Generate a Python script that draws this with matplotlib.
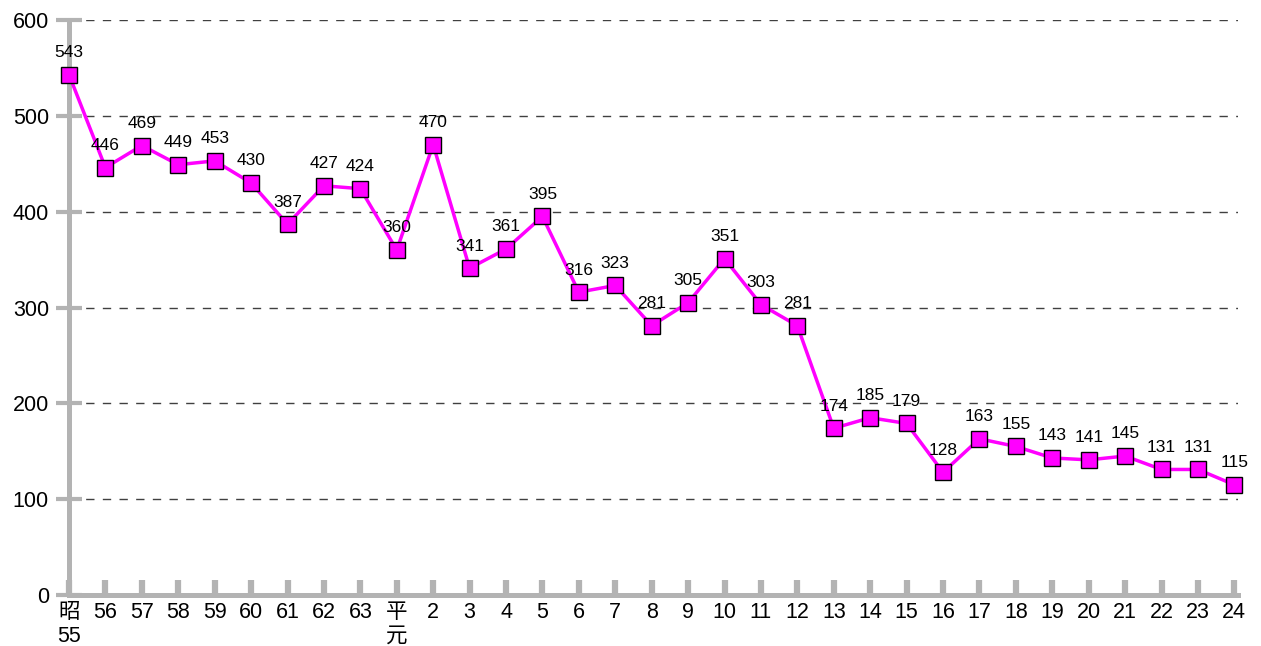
import matplotlib
matplotlib.use("Agg")
import matplotlib.pyplot as plt

categories = ["昭\n55", "56", "57", "58", "59", "60", "61", "62", "63", "平\n元",
              "2", "3", "4", "5", "6", "7", "8", "9", "10", "11", "12", "13",
              "14", "15", "16", "17", "18", "19", "20", "21", "22", "23", "24"]
values = [543, 446, 469, 449, 453, 430, 387, 427, 424, 360,
          470, 341, 361, 395, 316, 323, 281, 305, 351, 303, 281, 174,
          185, 179, 128, 163, 155, 143, 141, 145, 131, 131, 115]
yticks = [0, 100, 200, 300, 400, 500, 600]

plt.rcParams['font.family'] = ['Liberation Sans', 'Noto Sans CJK JP', 'DejaVu Sans']

W, H = 1261, 646
fig = plt.figure(figsize=(W / 100, H / 100), dpi=100)
left, right, top, bottom = 69, 1238, 20, 595
ax = fig.add_axes([left / W, 1 - bottom / H, (right - left) / W, (bottom - top) / H])

x = list(range(len(values)))
ax.plot(x, values, color='#FF00FF', lw=2.5, marker='s', ms=11,
        mfc='#FF00FF', mec='black', mew=1.0, zorder=5, clip_on=False)

for xi, v in zip(x, values):
    ax.annotate(str(v), (xi, v), xytext=(0, 10.5), textcoords='offset points',
                ha='center', va='bottom', fontsize=12.5, color='black', zorder=6)

ax.set_xlim(0, 32.1)
ax.set_ylim(0, 600)
ax.set_yticks(yticks)
ax.set_xticks(x)
ax.set_xticklabels(categories)

for yv in yticks[1:]:
    ax.axhline(yv, color='#404040', lw=1.0, dashes=(6, 6), zorder=1)

for s in ['top', 'right']:
    ax.spines[s].set_visible(False)
for s in ['left', 'bottom']:
    ax.spines[s].set_color('#b3b3b3')
    ax.spines[s].set_linewidth(3.6)
    ax.spines[s].set_zorder(3)

ax.tick_params(axis='y', direction='inout', length=19, width=3, color='#b3b3b3',
               labelsize=15.5, pad=5)
ax.tick_params(axis='x', direction='in', length=11, width=4.5, color='#b3b3b3',
               labelsize=15.5, pad=5)

fig.savefig('out.png', dpi=100)
